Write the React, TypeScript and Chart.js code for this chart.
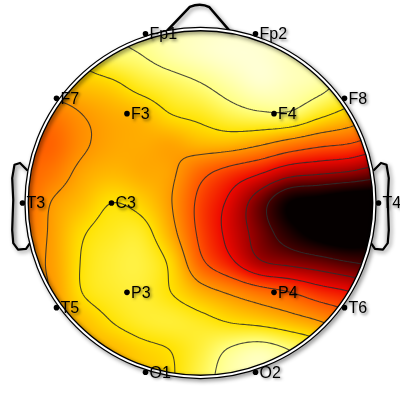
import { useEffect, useRef } from "react";
import { Chart, registerables } from "chart.js";

Chart.register(...registerables);

// ---- channel locations (unit = head radius) ----
const channelLabels = ["Fp1", "Fp2", "F7", "F3", "F4", "F8", "T3", "C3", "T4", "T5", "P3", "P4", "T6", "O1", "O2"];
const channelX = [-0.309, 0.309, -0.809, -0.413, 0.413, 0.809, -1, -0.5, 1, -0.809, -0.413, 0.413, 0.809, -0.309, 0.309];
const channelY = [0.951, 0.951, 0.588, 0.502, 0.502, 0.588, 0, 0, 0, -0.588, -0.502, -0.502, -0.588, -0.951, -0.951];

// ---- map values on a regular grid, front row first ----
const gridXs = [-1, -0.8333, -0.6667, -0.5, -0.3333, -0.1667, 0, 0.1667, 0.3333, 0.5, 0.6667, 0.8333, 1];
const gridYs = [1, 0.8333, 0.6667, 0.5, 0.3333, 0.1667, 0, -0.1667, -0.3333, -0.5, -0.6667, -0.8333, -1];
const row00 = [0.25, 0.22, 0.18, 0.14, 0.11, 0.07, 0.05, 0.04, 0.05, 0.07, 0.10, 0.15, 0.25];
const row01 = [0.30, 0.27, 0.22, 0.15, 0.125, 0.08, 0.05, 0.03, 0.03, 0.06, 0.09, 0.16, 0.25];
const row02 = [0.36, 0.32, 0.30, 0.27, 0.21, 0.17, 0.13, 0.08, 0.04, 0.06, 0.09, 0.17, 0.25];
const row03 = [0.46, 0.43, 0.375, 0.34, 0.315, 0.25, 0.22, 0.17, 0.14, 0.14, 0.22, 0.29, 0.36];
const row04 = [0.48, 0.47, 0.39, 0.35, 0.34, 0.35, 0.32, 0.32, 0.36, 0.42, 0.47, 0.50, 0.56];
const row05 = [0.47, 0.43, 0.35, 0.32, 0.34, 0.36, 0.47, 0.55, 0.62, 0.71, 0.74, 0.77, 0.82];
const row06 = [0.47, 0.37, 0.31, 0.25, 0.28, 0.37, 0.53, 0.65, 0.82, 1.0, 1.05, 1.10, 1.10];
const row07 = [0.44, 0.36, 0.26, 0.22, 0.215, 0.34, 0.525, 0.66, 0.805, 0.95, 1.05, 1.10, 1.05];
const row08 = [0.40, 0.36, 0.245, 0.20, 0.19, 0.27, 0.475, 0.60, 0.735, 0.78, 0.82, 0.87, 0.90];
const row09 = [0.38, 0.37, 0.25, 0.21, 0.20, 0.25, 0.33, 0.39, 0.45, 0.50, 0.57, 0.62, 0.70];
const row10 = [0.37, 0.37, 0.31, 0.25, 0.21, 0.20, 0.22, 0.255, 0.28, 0.32, 0.37, 0.45, 0.55];
const row11 = [0.36, 0.35, 0.34, 0.32, 0.28, 0.25, 0.19, 0.11, 0.07, 0.12, 0.20, 0.35, 0.45];
const row12 = [0.35, 0.34, 0.33, 0.31, 0.30, 0.26, 0.17, 0.08, 0.06, 0.10, 0.20, 0.30, 0.40];
const gridRows = [row00, row01, row02, row03, row04, row05, row06, row07, row08, row09, row10, row11, row12];

const contourLevels = [0.125, 0.25, 0.375, 0.5, 0.625, 0.75, 0.875];

// colour scale stops (value -> rgb), white (low) through yellow, orange, red to black (high)
const colorStopValues = [0, 0.125, 0.25, 0.375, 0.5, 0.625, 0.75, 0.875, 1];
const colorStopRGB = [
  [255, 255, 235],
  [255, 255, 130],
  [255, 226, 0],
  [255, 150, 0],
  [255, 84, 0],
  [238, 8, 0],
  [160, 0, 0],
  [70, 0, 0],
  [5, 0, 0],
];

// ---- head drawing geometry (unit = head radius) ----
const HEAD_FILL_R = 0.972;
const HEAD_RING_R = 0.977;

const clamp = (v: number, a: number, b: number) => (v < a ? a : v > b ? b : v);

function cr(p0: number, p1: number, p2: number, p3: number, t: number) {
  return p1 + 0.5 * t * (p2 - p0 + t * (2 * p0 - 5 * p1 + 4 * p2 - p3 + t * (3 * (p1 - p2) + p3 - p0)));
}

function sampleMap(xv: number, yv: number) {
  const n = gridRows.length;
  const m = gridRows[0].length;
  const gx = (xv - gridXs[0]) / (gridXs[1] - gridXs[0]);
  const gy = (gridYs[0] - yv) / (gridYs[0] - gridYs[1]);
  const ix = Math.floor(gx);
  const iy = Math.floor(gy);
  const fx = gx - ix;
  const fy = gy - iy;
  const g = (r: number, c: number) => gridRows[clamp(r, 0, n - 1)][clamp(c, 0, m - 1)];
  const r0 = cr(g(iy - 1, ix - 1), g(iy - 1, ix), g(iy - 1, ix + 1), g(iy - 1, ix + 2), fx);
  const r1 = cr(g(iy, ix - 1), g(iy, ix), g(iy, ix + 1), g(iy, ix + 2), fx);
  const r2 = cr(g(iy + 1, ix - 1), g(iy + 1, ix), g(iy + 1, ix + 1), g(iy + 1, ix + 2), fx);
  const r3 = cr(g(iy + 2, ix - 1), g(iy + 2, ix), g(iy + 2, ix + 1), g(iy + 2, ix + 2), fx);
  return cr(r0, r1, r2, r3, fy);
}

function colorFor(v: number): number[] {
  const n = colorStopValues.length;
  if (v <= colorStopValues[0]) return colorStopRGB[0];
  if (v >= colorStopValues[n - 1]) return colorStopRGB[n - 1];
  let k = 0;
  while (k < n - 2 && v > colorStopValues[k + 1]) k++;
  const t = (v - colorStopValues[k]) / (colorStopValues[k + 1] - colorStopValues[k]);
  const A = colorStopRGB[k];
  const B = colorStopRGB[k + 1];
  return [A[0] + (B[0] - A[0]) * t, A[1] + (B[1] - A[1]) * t, A[2] + (B[2] - A[2]) * t];
}

const earShape = [
  [-0.975, 0.185], [-1.014, 0.225], [-1.045, 0.215], [-1.058, 0.14], [-1.052, 0.017],
  [-1.058, -0.152], [-1.052, -0.225], [-1.025, -0.262], [-0.98, -0.258], [-0.958, -0.225],
];
const noseShape = [[-0.19, 0.965], [-0.06, 1.102], [0.0, 1.127], [0.05, 1.10], [0.17, 0.96]];

const topoPlugin = {
  id: "topoMap",
  beforeDatasetsDraw(chart: any) {
    const ctx: CanvasRenderingContext2D = chart.ctx;
    const xs = chart.scales.x;
    const ys = chart.scales.y;
    const px = (v: number) => xs.getPixelForValue(v);
    const py = (v: number) => ys.getPixelForValue(v);
    const cx = px(0);
    const cy = py(0);
    const unit = px(1) - cx;
    const Rf = unit * HEAD_FILL_R;

    // ---- heat map ----
    const x0 = Math.floor(cx - Rf - 2);
    const y0 = Math.floor(cy - Rf - 2);
    const w = Math.ceil(2 * Rf + 4);
    const h = Math.ceil(2 * Rf + 4);
    const off = document.createElement("canvas");
    off.width = w;
    off.height = h;
    const octx = off.getContext("2d")!;
    const img = octx.createImageData(w, h);
    for (let j = 0; j < h; j++) {
      const yv = ys.getValueForPixel(y0 + j + 0.5);
      for (let i = 0; i < w; i++) {
        const xv = xs.getValueForPixel(x0 + i + 0.5);
        const col = colorFor(sampleMap(xv, yv));
        const k = (j * w + i) * 4;
        img.data[k] = col[0];
        img.data[k + 1] = col[1];
        img.data[k + 2] = col[2];
        img.data[k + 3] = 255;
      }
    }
    octx.putImageData(img, 0, 0);

    ctx.save();
    ctx.beginPath();
    ctx.arc(cx, cy, Rf, 0, Math.PI * 2);
    ctx.clip();
    ctx.drawImage(off, x0, y0);

    // ---- contours (marching squares) ----
    const step = 2;
    const nx = Math.ceil(w / step) + 1;
    const ny = Math.ceil(h / step) + 1;
    const vals = new Float32Array(nx * ny);
    for (let j = 0; j < ny; j++) {
      const yv = ys.getValueForPixel(y0 + j * step);
      for (let i = 0; i < nx; i++) {
        vals[j * nx + i] = sampleMap(xs.getValueForPixel(x0 + i * step), yv);
      }
    }
    ctx.beginPath();
    for (const L of contourLevels) {
      for (let j = 0; j < ny - 1; j++) {
        for (let i = 0; i < nx - 1; i++) {
          const a = vals[j * nx + i];
          const b = vals[j * nx + i + 1];
          const c = vals[(j + 1) * nx + i + 1];
          const d = vals[(j + 1) * nx + i];
          const idx = (a > L ? 8 : 0) | (b > L ? 4 : 0) | (c > L ? 2 : 0) | (d > L ? 1 : 0);
          if (idx === 0 || idx === 15) continue;
          const X = x0 + i * step;
          const Y = y0 + j * step;
          const top = () => [X + (step * (L - a)) / (b - a), Y];
          const right = () => [X + step, Y + (step * (L - b)) / (c - b)];
          const bottom = () => [X + (step * (L - d)) / (c - d), Y + step];
          const left = () => [X, Y + (step * (L - a)) / (d - a)];
          const seg = (p: number[], q: number[]) => {
            ctx.moveTo(p[0], p[1]);
            ctx.lineTo(q[0], q[1]);
          };
          switch (idx) {
            case 1: case 14: seg(left(), bottom()); break;
            case 2: case 13: seg(bottom(), right()); break;
            case 3: case 12: seg(left(), right()); break;
            case 4: case 11: seg(top(), right()); break;
            case 6: case 9: seg(top(), bottom()); break;
            case 7: case 8: seg(top(), left()); break;
            case 5: seg(top(), right()); seg(left(), bottom()); break;
            case 10: seg(top(), left()); seg(bottom(), right()); break;
          }
        }
      }
    }
    ctx.strokeStyle = "rgba(45,45,45,0.85)";
    ctx.lineWidth = 1.1;
    ctx.stroke();
    ctx.restore();

    // ---- ears: soft grey shading inside ----
    for (const sgn of [-1, 1]) {
      ctx.save();
      ctx.beginPath();
      earShape.forEach((p, k) => {
        const X = px(sgn < 0 ? p[0] : -p[0]);
        const Y = py(p[1]);
        if (k === 0) ctx.moveTo(X, Y);
        else ctx.lineTo(X, Y);
      });
      ctx.closePath();
      const xo = px(sgn * 1.058);
      const xi = px(sgn * 0.985);
      const grad = ctx.createLinearGradient(xo, 0, xi, 0);
      grad.addColorStop(0, "rgba(120,120,120,0.55)");
      grad.addColorStop(0.45, "rgba(235,235,235,0.4)");
      grad.addColorStop(1, "rgba(255,255,255,0)");
      ctx.fillStyle = grad;
      ctx.fill();
      ctx.restore();
    }

    // ---- head outline: ears, nose, ring ----
    ctx.save();
    ctx.shadowColor = "rgba(0,0,0,0.45)";
    ctx.shadowBlur = 4;
    ctx.shadowOffsetX = 2;
    ctx.shadowOffsetY = 2;
    ctx.strokeStyle = "#000";
    ctx.lineJoin = "round";
    ctx.lineCap = "round";
    ctx.lineWidth = 2.2;
    for (const sgn of [-1, 1]) {
      ctx.beginPath();
      earShape.forEach((p, k) => {
        const X = px(sgn < 0 ? p[0] : -p[0]);
        const Y = py(p[1]);
        if (k === 0) ctx.moveTo(X, Y);
        else ctx.lineTo(X, Y);
      });
      ctx.stroke();
    }
    ctx.lineWidth = 2.5;
    ctx.beginPath();
    ctx.moveTo(px(noseShape[0][0]), py(noseShape[0][1]));
    ctx.lineTo(px(noseShape[1][0]), py(noseShape[1][1]));
    ctx.quadraticCurveTo(px(noseShape[2][0]), py(noseShape[2][1]), px(noseShape[3][0]), py(noseShape[3][1]));
    ctx.lineTo(px(noseShape[4][0]), py(noseShape[4][1]));
    ctx.stroke();
    ctx.lineWidth = 4.6;
    ctx.beginPath();
    ctx.arc(cx, cy, unit * HEAD_RING_R, 0, Math.PI * 2);
    ctx.stroke();
    ctx.restore();
    ctx.save();
    ctx.strokeStyle = "#fff";
    ctx.lineWidth = 2;
    ctx.beginPath();
    ctx.arc(cx, cy, unit * HEAD_RING_R, 0, Math.PI * 2);
    ctx.stroke();
    ctx.restore();
  },
  afterDatasetsDraw(chart: any) {
    const ctx: CanvasRenderingContext2D = chart.ctx;
    const xs = chart.scales.x;
    const ys = chart.scales.y;
    ctx.save();
    ctx.font = "16px 'Liberation Sans', Arial, sans-serif";
    ctx.textBaseline = "middle";
    ctx.textAlign = "left";
    ctx.fillStyle = "#000";
    ctx.shadowColor = "rgba(0,0,0,0.5)";
    ctx.shadowBlur = 3;
    ctx.shadowOffsetX = 1.5;
    ctx.shadowOffsetY = 1.5;
    channelLabels.forEach((lab, i) => {
      const X = xs.getPixelForValue(channelX[i]);
      const Y = ys.getPixelForValue(channelY[i]);
      ctx.fillText(lab, X + 4, Y + 1);
    });
    ctx.restore();
  },
};

export default function App() {
  const ref = useRef<HTMLCanvasElement>(null);
  useEffect(() => {
    const canvas = ref.current;
    if (!canvas) return;
    const chart = new Chart(canvas, {
      type: "scatter",
      data: {
        datasets: [
          {
            data: channelLabels.map((_, i) => ({ x: channelX[i], y: channelY[i] })),
            pointRadius: 2.8,
            pointBackgroundColor: "#000",
            pointBorderWidth: 0,
            pointBorderColor: "#000",
          },
        ],
      },
      options: {
        responsive: false,
        maintainAspectRatio: false,
        animation: false,
        events: [],
        layout: { padding: 0, autoPadding: false },
        plugins: { legend: { display: false }, tooltip: { enabled: false } },
        scales: {
          x: { type: "linear", display: false, min: -1.1264, max: 1.1208 },
          y: { type: "linear", display: false, min: -1.1067, max: 1.1404 },
        },
      },
      plugins: [topoPlugin],
    } as any);
    return () => chart.destroy();
  }, []);
  return (
    <div style={{ position: "fixed", left: 0, top: 0, width: 400, height: 400, background: "#fff" }}>
      <canvas ref={ref} width={400} height={400} style={{ width: 400, height: 400, display: "block" }} />
    </div>
  );
}
